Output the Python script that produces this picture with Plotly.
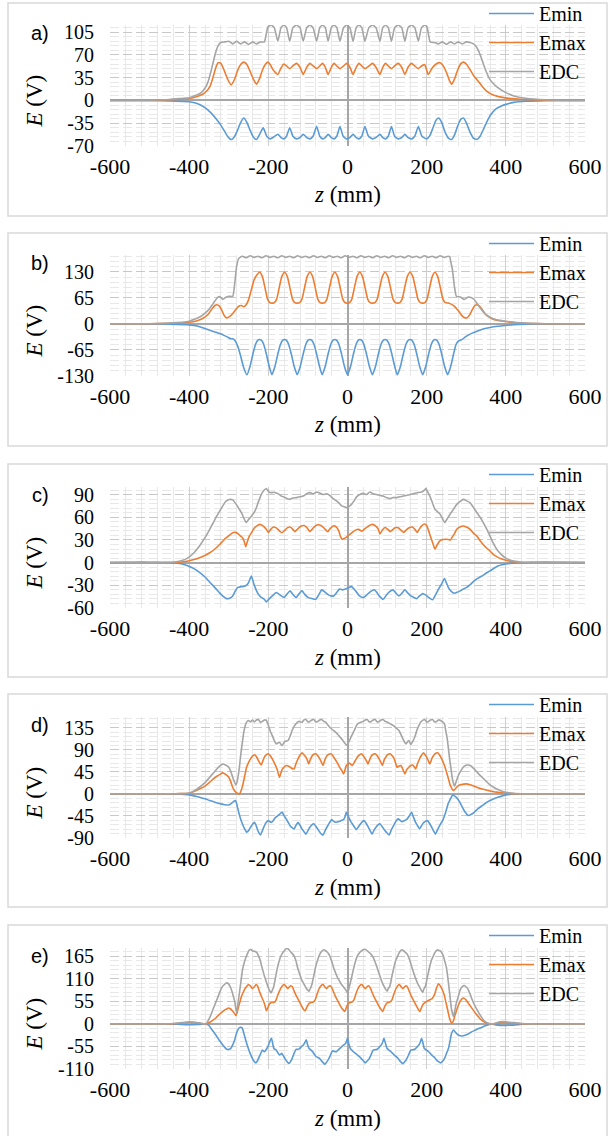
import plotly.graph_objects as go

# ---------------- data ----------------
SERIES = ["Emin", "Emax", "EDC"]
PANEL_LABELS = ["a)", "b)", "c)", "d)", "e)"]
X_TICKS = [-600, -400, -200, 0, 200, 400, 600]
Y_TICKS = [
    [-70, -35, 0, 35, 70, 105],
    [-130, -65, 0, 65, 130],
    [-60, -30, 0, 30, 60, 90],
    [-90, -45, 0, 45, 90, 135],
    [-110, -55, 0, 55, 110, 165],
]

a_emin = [(-600,0),(-500,-0.3),(-450,-0.8),(-400,-2),(-380,-4.6),(-360,-11),(-345,-19),(-332,-28),(-320,-38),(-310,-48),(-302,-56),(-294,-60),(-286,-56),(-278,-46),(-270,-34),(-262,-27),(-254,-34),(-246,-46),(-238,-56),(-230,-60),(-222,-52),(-213,-42),(-204,-55),(-195,-59),(-186,-56),(-176,-52),(-168,-57),(-161,-59),(-154,-55),(-146,-42),(-138,-55),(-129,-59),(-120,-57),(-112,-52),(-103,-57),(-95,-59),(-87,-55),(-78,-40),(-70,-55),(-63,-59),(-56,-57),(-49,-52),(-41,-57),(-34,-59),(-27,-55),(-19,-40),(-11,-55),(-2,-59),(6,-57),(14,-52),(22,-57),(29,-59),(36,-55),(44,-40),(53,-55),(63,-59),(72,-57),(82,-52),(89,-57),(96,-59),(103,-55),(111,-40),(119,-55),(128,-59),(137,-57),(145,-52),(153,-57),(162,-59),(170,-55),(179,-40),(188,-55),(200,-59),(208,-54),(216,-42),(223,-31),(230,-27),(238,-34),(246,-48),(255,-58),(263,-60),(271,-52),(279,-38),(286,-29),(293,-27),(300,-34),(309,-48),(318,-58),(327,-60),(335,-55),(343,-45),(352,-33),(362,-22),(375,-13),(390,-8),(400,-6),(420,-3),(450,-1.2),(500,-0.3),(600,0)]
a_emax = [(-600,0),(-500,0.3),(-450,1),(-400,3),(-380,6),(-365,10),(-355,15),(-347,22),(-340,35),(-333,50),(-327,58),(-320,57),(-312,47),(-303,33),(-294,24),(-285,33),(-277,47),(-269,56),(-262,59),(-255,56),(-247,46),(-238,33),(-230,25),(-222,34),(-214,48),(-207,56),(-201,59),(-195,55),(-188,47),(-176,40),(-168,50),(-161,56),(-154,53),(-146,49),(-138,53),(-129,57),(-120,51),(-112,40),(-103,51),(-95,57),(-87,53),(-78,49),(-70,53),(-63,57),(-56,51),(-49,40),(-41,51),(-34,57),(-27,53),(-19,49),(-10,53),(-2,57),(6,51),(14,40),(22,51),(29,57),(36,53),(44,49),(54,53),(63,57),(72,51),(82,40),(89,51),(96,57),(103,53),(111,49),(119,53),(128,57),(137,51),(145,40),(153,51),(162,57),(170,53),(179,49),(187,53),(195,55),(204,40),(214,50),(224,56),(234,58),(243,52),(252,40),(258,30),(263,25),(271,34),(279,48),(287,57),(293,59),(300,56),(310,47),(320,37),(327,32),(340,22),(352,14),(370,8),(398,4),(450,1.5),(500,0.5),(600,0)]
a_edc = [(-600,0),(-500,0.5),(-450,1.5),(-420,3),(-400,4),(-388,7),(-375,10),(-365,15),(-357,22),(-350,33),(-344,47),(-338,62),(-332,76),(-326,85),(-320,89),(-310,90),(-300,91),(-290,87),(-280,91),(-270,87),(-260,90),(-250,86),(-240,90),(-230,87),(-220,90),(-210,90),(-206,100),(-201,113),(-193,116),(-185,112),(-176,91),(-168,112),(-161,116),(-154,112),(-146,91),(-138,112),(-129,116),(-120,112),(-112,91),(-103,112),(-95,116),(-87,112),(-78,91),(-70,112),(-63,116),(-56,112),(-49,91),(-41,112),(-34,116),(-27,112),(-19,91),(-10,112),(-2,116),(6,112),(14,91),(22,112),(29,116),(36,112),(44,91),(54,112),(63,116),(72,112),(82,91),(89,112),(96,116),(103,112),(111,91),(119,112),(128,116),(137,112),(145,91),(153,112),(162,116),(170,112),(179,91),(187,112),(195,116),(201,113),(205,100),(209,90),(220,89),(230,87),(240,90),(250,86),(260,90),(270,87),(280,90),(290,87),(300,90),(310,89),(318,87),(325,83),(332,75),(340,62),(350,45),(360,32),(375,22),(400,12),(420,7),(450,3.5),(500,1),(550,0.2),(600,0)]

b_emin = [(-600,0),(-500,-0.3),(-450,-1),(-400,-2.5),(-380,-5),(-357,-12.5),(-335,-20),(-315,-27),(-303,-33),(-295,-37),(-290,-37),(-284,-42),(-277,-56),(-270,-80),(-262,-110),(-254,-127),(-246,-105),(-239,-75),(-232,-50),(-227,-41),(-222,-39),(-217,-41),(-212,-50),(-205,-75),(-198,-105),(-191,-127),(-183,-105),(-176,-75),(-169,-50),(-164,-41),(-159,-39),(-154,-41),(-149,-50),(-142,-75),(-135,-105),(-127,-127),(-119,-105),(-112,-75),(-105,-50),(-100,-41),(-95,-39),(-90,-41),(-85,-50),(-78,-75),(-71,-105),(-64,-127),(-56,-105),(-49,-75),(-42,-50),(-37,-41),(-32,-39),(-27,-41),(-22,-50),(-15,-75),(-8,-105),(0,-127),(8,-105),(15,-75),(22,-50),(27,-41),(31,-39),(36,-41),(41,-50),(48,-75),(55,-105),(63,-127),(71,-105),(78,-75),(85,-50),(90,-41),(95,-39),(100,-41),(105,-50),(112,-75),(119,-105),(126,-127),(134,-105),(141,-75),(148,-50),(153,-41),(158,-39),(163,-41),(168,-50),(175,-75),(182,-105),(190,-127),(198,-105),(205,-75),(212,-50),(217,-41),(221,-39),(226,-41),(231,-50),(238,-75),(245,-105),(253,-127),(261,-105),(268,-75),(274,-52),(280,-43),(286,-40),(291,-38),(297,-33),(305,-28),(315,-23),(327,-18),(345,-12),(360,-9),(380,-6),(398,-4),(420,-2),(450,-1),(500,-0.3),(600,0)]
b_emax = [(-600,0),(-500,0.5),(-450,1.5),(-400,4),(-380,8),(-365,14),(-352,24),(-342,38),(-335,46),(-330,48),(-324,45),(-318,35),(-312,22),(-306,15),(-298,18),(-290,26),(-282,36),(-275,44),(-268,46),(-262,43),(-256,48),(-250,60),(-243,85),(-236,110),(-229,122),(-222,129),(-215,118),(-208,88),(-202,62),(-196,53),(-190,52),(-185,53),(-179,62),(-173,88),(-166,118),(-159,129),(-152,118),(-145,88),(-139,62),(-133,53),(-127,52),(-121,53),(-115,62),(-109,88),(-102,118),(-95,129),(-88,118),(-81,88),(-75,62),(-69,53),(-63,52),(-58,53),(-52,62),(-46,88),(-39,118),(-32,129),(-25,118),(-18,88),(-12,62),(-6,53),(0,52),(5,53),(11,62),(17,88),(24,118),(31,129),(38,118),(45,88),(51,62),(57,53),(63,52),(69,53),(75,62),(81,88),(88,118),(95,129),(102,118),(109,88),(115,62),(121,53),(127,52),(132,53),(138,62),(144,88),(151,118),(158,129),(165,118),(172,88),(178,62),(184,53),(190,52),(195,53),(201,62),(207,88),(214,118),(221,129),(228,118),(235,88),(241,62),(247,53),(254,52),(260,50),(266,47),(272,42),(280,33),(288,22),(295,16),(301,15),(308,22),(315,35),(322,46),(327,48),(333,45),(340,36),(348,25),(356,18),(365,13),(377,9),(398,6),(420,3.5),(450,1.5),(500,0.5),(600,0)]
b_edc = [(-600,0),(-500,0.5),(-450,2),(-400,6.7),(-385,12),(-370,19),(-360,27),(-350,36),(-342,47),(-335,57),(-328,66),(-322,68),(-315,61),(-308,66),(-300,69),(-290,69),(-285,100),(-280,144),(-275,163),(-266,169),(-256,165),(-246,170),(-236,166),(-226,169),(-216,165),(-206,170),(-196,166),(-186,169),(-176,165),(-166,170),(-156,166),(-146,169),(-136,165),(-126,170),(-116,166),(-106,169),(-96,165),(-86,170),(-76,166),(-66,169),(-56,165),(-46,170),(-36,166),(-26,169),(-16,165),(-6,170),(4,166),(14,169),(24,165),(34,170),(44,166),(54,169),(64,165),(74,170),(84,166),(94,169),(104,165),(114,170),(124,166),(134,169),(144,165),(154,170),(164,166),(174,169),(184,165),(194,170),(204,166),(214,169),(224,165),(234,170),(244,166),(254,169),(258,168),(262,150),(265,136),(270,94),(275,69),(285,67),(295,61),(305,67),(312,66),(320,61),(328,50),(335,40),(343,30),(350,23),(360,17),(370,12.5),(385,9),(400,6.7),(450,2),(500,0.5),(600,0)]

c_emin = [(-600,0),(-441,0),(-420,-1.5),(-402,-4.4),(-388,-8),(-374,-13),(-360,-19),(-348,-26),(-335,-33),(-323,-40),(-314,-44.5),(-306,-47.6),(-298,-47),(-290,-44),(-284,-38),(-278,-33),(-270,-32),(-262,-31.5),(-256,-30),(-250,-26.4),(-246,-21),(-243,-17.6),(-240,-22),(-236,-29),(-230,-37),(-225,-42),(-218,-46),(-210,-48.5),(-205,-52),(-198,-48),(-190,-44),(-180,-39.6),(-170,-43),(-160,-46),(-152,-41),(-145,-37.4),(-138,-42),(-130,-46),(-122,-41),(-115,-37),(-108,-42),(-100,-46),(-90,-47.5),(-80,-48.5),(-72,-42),(-65,-36),(-57,-39),(-50,-42),(-42,-44),(-35,-44),(-28,-40),(-20,-35),(-12,-36),(-5,-35),(3,-33),(10,-31.7),(20,-37),(30,-44),(40,-46),(48,-43),(55,-39.6),(62,-37),(68,-36),(75,-40),(80,-44),(90,-48.5),(98,-43),(105,-39),(115,-36),(122,-40),(130,-44),(138,-40),(145,-36),(152,-40),(160,-44),(168,-46),(175,-47.6),(182,-44),(190,-41),(198,-43),(205,-46),(215,-49),(222,-43),(230,-35),(238,-28),(245,-21),(250,-27),(255,-33),(262,-38),(270,-40.5),(278,-39),(285,-37.4),(292,-35),(300,-33),(310,-29),(320,-24),(330,-20.5),(340,-17.6),(350,-14),(360,-11),(370,-7.5),(380,-4.4),(390,-2.8),(400,-1.8),(415,-0.8),(430,0),(600,0)]
c_emax = [(-600,0),(-560,0.3),(-520,0.6),(-480,0.3),(-441,0),(-420,0.8),(-402,2.2),(-388,4),(-374,6.6),(-360,9.5),(-348,13),(-335,18),(-323,24),(-314,29),(-306,33),(-298,36.5),(-290,39.6),(-283,40),(-276,38),(-270,35),(-265,33),(-261,28),(-257,21),(-253,28),(-248,35),(-242,40),(-235,46),(-228,49),(-220,50.5),(-212,48),(-205,44),(-200,40),(-194,44),(-187,47),(-180,46),(-172,42),(-166,39.5),(-160,42),(-152,46),(-145,47),(-138,44),(-133,41),(-127,44),(-118,48),(-110,49),(-102,46),(-95,41),(-88,45),(-80,49),(-72,50),(-64,48),(-56,44),(-50,41),(-44,45),(-36,48.5),(-28,47),(-22,42),(-18,35),(-14,31),(-8,32),(-2,34),(5,37),(12,40),(20,43),(28,44),(36,41.5),(44,45),(52,48),(61,50.5),(70,49),(78,44),(82,38),(88,43),(95,46.5),(102,44),(108,41),(113,43),(120,46),(128,46),(135,43),(142,40),(148,43),(156,46),(164,47),(170,44),(176,40),(182,45),(188,49),(195,51),(200,49),(205,42),(210,34),(216,25),(221,18),(227,24),(234,29),(241,30.5),(248,31),(255,30.5),(260,30),(265,34),(270,38),(276,44),(285,47.5),(293,48.5),(300,47),(310,44),(318,39),(327,35),(335,29),(343,24),(352,19),(360,15.4),(368,11),(377,8),(388,5),(398,3.5),(410,2),(425,0.8),(440,0),(470,0.5),(500,0.8),(530,0.4),(600,0)]
c_edc = [(-600,0),(-460,0),(-441,0.5),(-420,2.5),(-402,6.6),(-388,13),(-374,22),(-360,33),(-348,44),(-335,57),(-323,68),(-314,76),(-306,81.5),(-298,83.5),(-290,83),(-281,77),(-275,72),(-268,66),(-262,59),(-256,53),(-250,57),(-245,60),(-239,64),(-234,68),(-230,73),(-224,82),(-218,90),(-212,95),(-205,98),(-198,93),(-192,92.5),(-185,93),(-180,92),(-172,90),(-167,88),(-158,86),(-150,84),(-146,83.7),(-140,85),(-129,86),(-120,87),(-112,88),(-103,91),(-95,92.5),(-86,91),(-78,93.4),(-70,92),(-62,90),(-53,91),(-45,89),(-37,85),(-28,81.5),(-20,78),(-15,75),(-8,74),(-2.5,72.7),(3,74),(10,77),(17,82),(23,87),(31,90),(40,91.6),(48,90),(56.5,93.4),(65,91),(73,90),(82,89),(90,88),(98,86),(107,84.6),(115,86),(124,86),(132,87),(141,88),(150,89),(158,90),(166,91),(175,92.5),(184,93),(192,94.7),(198,97.8),(203,93),(208,88),(214,80),(221,70.5),(228,67),(234,64),(240,58),(246,53),(252,58),(259,64),(267,70),(276,77),(285,81),(293,83.7),(300,82),(310,79),(318,73),(327,66),(335,60),(343,53),(352,44),(360,35),(368,26),(377,17.6),(388,11),(398,6.6),(410,3.5),(420,2),(440,0.5),(460,0),(600,0)]

d_emin = [(-600,0),(-450,0),(-420,-0.5),(-402,-1.4),(-388,-4),(-374,-7),(-360,-10),(-348,-13.6),(-335,-17),(-320,-20.4),(-310,-22),(-300,-22.5),(-294,-20),(-290,-17),(-286,-14.5),(-283,-13.6),(-280,-20),(-278,-27),(-274,-40),(-270,-51),(-266,-60),(-262,-68),(-258,-74),(-255,-78),(-250,-75),(-245,-68),(-240,-62),(-235,-58),(-231,-64),(-228,-71.6),(-224,-79),(-220,-84),(-215,-75),(-210,-65),(-205,-58),(-200,-54.5),(-196,-57),(-192,-58),(-188,-55),(-185,-51),(-180,-47),(-175,-44),(-170,-40),(-165,-37.5),(-160,-45),(-155,-51),(-150,-58),(-145,-65),(-140,-69),(-135,-71.6),(-130,-64),(-125,-58),(-120,-64),(-115,-71.6),(-110,-77),(-105,-82),(-100,-75),(-95,-68),(-90,-63),(-85,-61),(-80,-66),(-75,-72),(-70,-78),(-66,-82),(-62,-84),(-56,-74),(-50,-65),(-45,-58),(-40,-52.5),(-35,-56),(-30,-58),(-25,-57),(-20,-56),(-15,-54),(-10,-52.5),(-6,-46),(-3,-37.5),(0,-42),(5,-51),(8,-56),(12,-61),(17,-67),(22,-73),(27,-68),(32,-62),(37,-57),(42,-54.5),(47,-60),(52,-67),(57,-75),(62,-82),(67,-74),(72,-68),(77,-63),(82,-61),(87,-66),(92,-72),(98,-78),(105,-84),(111,-73),(118,-62),(123,-55),(128,-51),(133,-54),(138,-56.6),(143,-55),(150,-52),(156,-45),(162,-37.5),(167,-48),(172,-58),(177,-65),(182,-71.6),(187,-65),(192,-59),(197,-56),(202,-54.5),(207,-60),(212,-67),(217,-75),(222,-82),(227,-74),(232,-66),(236,-60),(240,-55),(244,-47),(248,-37.5),(252,-26),(255,-18),(258,-13.6),(262,-7),(266,-2),(270,-4),(275,-7),(280,-12),(285,-19),(290,-27),(297,-37),(305,-44),(312,-42),(320,-37.5),(330,-30),(340,-24),(350,-18),(360,-13.6),(370,-10),(380,-7),(390,-4.5),(400,-2),(415,-0.8),(430,0),(600,0)]
d_emax = [(-600,0),(-450,0),(-420,0.5),(-402,1.4),(-388,5),(-374,10),(-360,16),(-348,24),(-338,31),(-330,36),(-322,40),(-315,43),(-308,40),(-300,34),(-295,25),(-290,13.6),(-286,7),(-282,3.4),(-277,1),(-273,0),(-269,6),(-265,17),(-260,35),(-255,54.5),(-250,64),(-245,71.6),(-240,77),(-235,80),(-230,76),(-225,68),(-218,59),(-214,67),(-210,75),(-205,80),(-200,82),(-195,78),(-190,71.6),(-184,62),(-178,51),(-172,34),(-168,43),(-165,50),(-160,55),(-155,58),(-150,57),(-145,54.5),(-140,52),(-135,51),(-130,62),(-125,71.6),(-120,79),(-115,84),(-110,80),(-105,75),(-101,68),(-98,61),(-94,70),(-90,77),(-85,81),(-80,82),(-75,78),(-70,71.6),(-66,65),(-62,58),(-57,70),(-52,78),(-47,81),(-42,82),(-37,78),(-32,71.6),(-26,64),(-20,54.5),(-14,47),(-10,41),(-6,50),(-3,58),(1,61),(5,63),(8,61),(12,58),(17,64),(22,71.6),(28,78),(35,82),(40,78),(45,71.6),(49,66),(52,61),(56,70),(60,77),(65,81),(70,82),(75,78),(80,71.6),(84,65),(88,58),(93,70),(98,77),(103,81),(108,82),(113,78),(118,71.6),(122,62),(125,54.5),(130,57),(135,58),(140,50),(145,41),(150,50),(155,54.5),(160,58),(165,59),(169,55),(172,51),(177,62),(182,71.6),(187,79),(192,84),(196,80),(200,75),(204,68),(208,61),(213,72),(218,79),(223,83),(228,84),(233,79),(238,71.6),(241,66),(245,58),(250,45),(255,30.7),(258,22),(262,13.6),(265,9),(268,6.8),(274,12),(280,17),(290,19.5),(300,20.4),(310,18.5),(320,15.7),(330,12.5),(340,10),(350,8),(360,6),(370,4.5),(380,3.4),(390,2.3),(400,1.4),(415,0.6),(430,0),(600,0)]
d_edc = [(-600,0),(-450,0),(-420,0.5),(-402,1.4),(-388,6),(-374,13.6),(-360,23),(-348,34),(-338,43),(-330,51),(-322,57),(-315,61),(-308,59),(-300,54.5),(-295,46),(-290,34),(-286,25),(-282,18.4),(-279,25),(-276,37.5),(-273,55),(-270,78),(-266,103),(-262,126),(-258,140),(-255,146.6),(-250,150),(-245,147),(-240,151),(-235,147),(-230,151),(-225,152),(-220,146),(-215,148),(-210,151),(-205,150),(-200,140),(-195,128),(-190,119),(-185,109),(-180,102),(-176,104),(-172,105.6),(-168,101),(-165,99),(-161,104),(-158,107),(-154,108),(-150,109),(-145,118),(-140,129.5),(-134,139),(-128,145),(-122,148),(-115,146),(-110,151),(-105,152),(-100,147),(-95,148),(-90,151),(-85,152),(-80,147),(-75,148),(-70,151),(-65,152),(-60,148),(-55,146.6),(-50,141),(-45,136),(-38,131),(-30,126),(-22,119),(-15,112.5),(-10,107),(-5,102),(-2,100),(0,99),(2,104),(5,109),(10,118),(15,126),(20,135),(25,143),(32,146),(40,148),(45,151),(50,152),(55,147),(60,148),(65,151),(70,152),(75,147),(80,148),(85,151),(90,152),(95,148),(100,146.6),(108,143),(115,140),(122,135),(130,129.5),(135,121),(140,112.5),(144,106),(148,102),(152,107),(155,109),(158,104),(160,101),(164,106),(168,112.5),(172,121),(175,129.5),(180,139),(185,146.6),(190,150),(195,152),(200,147),(205,148),(210,151),(215,152),(220,147),(225,148),(230,151),(235,150),(240,147),(245,143),(248,130),(252,112.5),(255,92),(258,71.6),(262,48),(265,30.7),(270,15.7),(275,26),(280,37.5),(287,48),(295,56.6),(305,59),(312,57),(320,51),(330,42),(340,34),(350,26),(360,18.4),(370,13),(380,8.9),(390,5.5),(400,3.4),(420,1),(450,0),(600,0)]

e_emin = [(-600,0),(-460,0),(-440,-0.5),(-420,-1.5),(-400,-2),(-380,-1.5),(-365,-0.5),(-357,0),(-350,-4),(-345,-10.7),(-338,-20),(-330,-31),(-324,-40),(-318,-47.6),(-311,-56),(-305,-62),(-299,-62),(-295,-60),(-290,-51),(-285,-39),(-282,-28),(-278,-16.4),(-274,-10),(-270,-8.2),(-266,-10),(-262,-23),(-257,-40),(-252,-56),(-246,-72),(-240,-84.6),(-236,-91),(-232,-95),(-228,-91),(-225,-84.6),(-220,-74),(-215,-64),(-210,-68),(-205,-62),(-200,-53),(-196,-42),(-192,-35),(-189,-48),(-186,-60),(-180,-64),(-176,-70),(-172,-76),(-169,-74),(-166,-72),(-162,-78),(-158,-84.6),(-153,-92),(-148,-97),(-144,-92),(-140,-84.6),(-135,-72),(-130,-62),(-126,-62),(-122,-61),(-117,-56),(-112,-52),(-108,-46),(-104,-39),(-101,-50),(-97,-60),(-92,-64),(-88,-68),(-84,-74),(-80,-79),(-75,-82),(-70,-84.6),(-64,-92),(-57,-98.5),(-52,-92),(-47,-84.6),(-42,-74),(-38,-65.7),(-33,-67),(-28,-68),(-22,-62),(-15,-56),(-10,-52),(-5,-47.6),(-2,-41),(0,-35),(3,-48),(7,-60),(11,-64),(15,-68),(20,-72),(25,-76),(30,-80),(35,-84.6),(40,-90),(45,-95),(50,-90),(55,-84.6),(60,-74),(65,-64),(70,-63),(75,-62),(80,-57),(85,-52),(89,-44),(92,-35),(96,-48),(100,-60),(105,-64),(110,-68),(114,-72),(118,-76),(123,-80),(128,-84.6),(134,-92),(140,-97),(145,-92),(150,-84.6),(155,-74),(160,-64),(165,-63),(170,-62),(175,-57),(180,-52),(184,-44),(187,-35),(191,-48),(194,-60),(200,-64),(205,-68),(209,-72),(213,-76),(218,-80),(222,-84.6),(228,-91),(235,-95),(240,-91),(245,-84.6),(250,-72),(255,-60),(259,-42),(263,-23),(268,-14.8),(274,-22),(280,-27),(285,-29),(290,-29.5),(297,-27.5),(305,-24.6),(312,-20.5),(320,-16.4),(330,-12),(340,-8.2),(348,-4.5),(355,-2.5),(362,0),(370,-1.5),(380,-3),(392,-4),(405,-3.5),(420,-3),(440,-1),(460,0),(600,0)]
e_emax = [(-600,0),(-460,0),(-440,0.5),(-420,2),(-400,4),(-385,3),(-370,1),(-357,0),(-348,4),(-340,9),(-332,15),(-325,22),(-318,28),(-310,34),(-304,37),(-300,38.6),(-296,37),(-290,31),(-285,25),(-282,20),(-278,30),(-275,43),(-271,56),(-268,67),(-264,76),(-260,84),(-255,91),(-250,96),(-245,92),(-240,86),(-235,91),(-231,96),(-227,92),(-222,78),(-217,66),(-212,55),(-208,43),(-205,32),(-201,40),(-197,49),(-192,52),(-187,52),(-182,55),(-177,68),(-172,80),(-166,91),(-160,96),(-155,91),(-151,86),(-147,90),(-143,93),(-139,90),(-134,78),(-128,66),(-122,55),(-116,44),(-111,35),(-107,32),(-102,42),(-97,50),(-92,52),(-87,53),(-82,58),(-77,72),(-72,85),(-67,93),(-62,96),(-57,90),(-53,86),(-49,90),(-44,93),(-40,89),(-35,77),(-30,66),(-24,55),(-18,44),(-12,35),(-7,30),(-3,40),(1,48),(6,52),(11,53),(16,58),(21,72),(26,85),(31,93),(36,96),(41,90),(45,86),(49,90),(53,93),(57,89),(62,77),(67,66),(73,55),(79,44),(85,35),(89,30),(93,40),(97,48),(102,52),(107,53),(112,58),(117,72),(122,85),(127,93),(131,96),(136,90),(140,86),(144,90),(148,93),(152,89),(157,77),(162,66),(168,55),(174,44),(179,35),(183,30),(187,40),(191,48),(196,52),(202,56),(208,59),(214,62),(220,72),(225,88),(230,98),(235,92),(240,82),(244,72),(248,55),(251,43),(255,25),(259,10),(263,2),(267,6),(272,22),(278,40),(284,54),(289,61),(293,63),(298,60),(304,52),(310,44),(318,33),(325,24),(331,17),(338,10),(345,5),(352,2),(360,0),(370,0.5),(380,2),(392,3),(405,2.5),(420,1.5),(440,0.5),(460,0),(600,0)]
e_edc = [(-600,0),(-460,0),(-440,1),(-420,3),(-400,5),(-385,4),(-370,1.6),(-357,0),(-351,10),(-345,22),(-338,40),(-330,59),(-324,74),(-318,88),(-311,96),(-305,100),(-300,97),(-295,88),(-290,73),(-285,55),(-280,26),(-276,55),(-273,75.5),(-269,105),(-265,133),(-260,152),(-255,166),(-251,175),(-248,180.6),(-244,181),(-240,178),(-236,177),(-232,175.7),(-228,172),(-225,166),(-221,157),(-218,145),(-214,131),(-210,116.6),(-205,102),(-200,88),(-196,80),(-193,75.5),(-189,84),(-186,92),(-182,112),(-178,133),(-173,152),(-168,166),(-164,173),(-160,178),(-156,182),(-152,184),(-148,181),(-144,175.7),(-140,172),(-135,166),(-130,153),(-126,137),(-121,122),(-116,108),(-110,97),(-105,88),(-101,83),(-97,79.6),(-93,88),(-90,96),(-85,118),(-80,141),(-75,157),(-70,170),(-65,177),(-60,180.6),(-56,179),(-52,175.7),(-48,171),(-45,166),(-40,153),(-35,137),(-30,124),(-25,112.5),(-20,104),(-15,96),(-10,90),(-5,83.7),(0,75.5),(3,84),(5,92),(10,112),(15,133),(20,152),(25,166),(30,173),(35,178),(40,181),(45,182),(50,178),(55,174),(60,169),(65,162),(70,150),(75,137),(80,122),(85,108),(88,100),(92,92),(96,85),(100,79.6),(103,86),(107,92),(112,115),(117,137),(122,155),(127,166),(132,176),(137,180.6),(141,179),(145,175.7),(149,172),(153,166),(158,153),(163,137),(168,122),(173,108),(178,97),(183,88),(187,81),(190,77),(193,85),(197,92),(202,115),(207,137),(212,155),(217,166),(222,176),(227,180.6),(231,179),(235,178),(239,172),(242,166),(246,152),(250,137),(254,108),(257,83.7),(260,58),(263,34.5),(268,18),(271,32),(275,51),(280,67),(285,83.7),(290,91),(295,93.6),(300,90),(305,83.7),(310,72),(315,59),(322,44),(330,30),(338,17),(345,8),(350,4),(355,1.6),(362,0),(370,0.5),(378,3),(385,5),(392,5.5),(400,5),(410,4),(420,3),(430,2),(440,1),(460,0),(600,0)]

PANEL_DATA = [
    (a_emin, a_emax, a_edc),
    (b_emin, b_emax, b_edc),
    (c_emin, c_emax, c_edc),
    (d_emin, d_emax, d_edc),
    (e_emin, e_emax, e_edc),
]

# ---------------- layout / style ----------------
W, H = 610, 1136
COLORS = ["#5B9BD5", "#ED7D31", "#A5A5A5"]
PLOT_X0, PLOT_X1 = 110, 585
PLOT_TOPS = [25, 255, 487, 717, 948]
PLOT_H = 121
Y_RANGES = [(-70, 116), (-130, 172), (-60, 100), (-90, 157), (-110, 185)]
Y_MINOR = [7, 13, 6, 9, 11]
BOX_TOPS = [3, 233, 464, 694, 925]
BOX_H = 213
SERIF = "Liberation Serif"
SANS = "Liberation Sans"

fig = go.Figure()
layout = dict(
    width=W, height=H, margin=dict(l=0, r=0, t=0, b=0, autoexpand=False),
    paper_bgcolor="white", plot_bgcolor="white",
    showlegend=True, annotations=[], shapes=[],
)

for i, series in enumerate(PANEL_DATA):
    n = i + 1
    sx = "" if n == 1 else str(n)
    leg = "legend" if n == 1 else f"legend{n}"
    for name, color, pts in zip(SERIES, COLORS, series):
        fig.add_trace(go.Scatter(
            x=[p[0] for p in pts], y=[p[1] for p in pts], name=name,
            mode="lines", line=dict(color=color, width=1.6, shape="spline", smoothing=0.5),
            xaxis="x" + sx, yaxis="y" + sx, legend=leg, hoverinfo="skip",
        ))
    top = PLOT_TOPS[i]
    y_dom = [1 - (top + PLOT_H) / H, 1 - top / H]
    layout["xaxis" + sx] = dict(
        domain=[PLOT_X0 / W, PLOT_X1 / W], range=[-600, 600], anchor="y" + sx,
        tickmode="array", tickvals=X_TICKS, ticktext=[str(v) for v in X_TICKS],
        showgrid=True, gridcolor="#cfcfcf", gridwidth=1.3,
        zeroline=True, zerolinecolor="#a6a6a6", zerolinewidth=2,
        showline=False, ticks="", ticklabelstandoff=5, automargin=False,
        tickfont=dict(family=SERIF, size=22, color="black"),
        minor=dict(tickmode="linear", tick0=-600, dtick=40, showgrid=True,
                   gridcolor="#e8e8e8", gridwidth=1),
        fixedrange=True,
    )
    layout["yaxis" + sx] = dict(
        domain=y_dom, range=list(Y_RANGES[i]), anchor="x" + sx,
        tickmode="array", tickvals=Y_TICKS[i], ticktext=[str(v) for v in Y_TICKS[i]],
        showgrid=True, gridcolor="#c8c8c8", gridwidth=1.3, griddash="9px,4px",
        zeroline=True, zerolinecolor="#a6a6a6", zerolinewidth=2,
        showline=False, ticks="", ticklabelstandoff=15, automargin=False,
        tickfont=dict(family=SERIF, size=20, color="black"),
        minor=dict(tickmode="linear", tick0=0, dtick=Y_MINOR[i], showgrid=True,
                   gridcolor="#e8e8e8", gridwidth=1),
        fixedrange=True,
    )
    layout[leg] = dict(
        x=484 / W, xanchor="left", y=1 - (BOX_TOPS[i] - 9) / H, yanchor="top",
        bgcolor="rgba(0,0,0,0)", borderwidth=0, itemwidth=45,
        font=dict(family=SERIF, size=20, color="black"),
        tracegroupgap=0, itemclick=False, itemdoubleclick=False,
    )
    # panel frame
    box_top = BOX_TOPS[i]
    layout["shapes"].append(dict(
        type="rect", xref="paper", yref="paper",
        x0=8 / W, x1=607 / W, y0=1 - (box_top + BOX_H) / H, y1=1 - box_top / H,
        line=dict(color="#d9d9d9", width=1.5), fillcolor="rgba(0,0,0,0)", layer="below",
    ))
    # panel label
    layout["annotations"].append(dict(
        text=PANEL_LABELS[i], xref="paper", yref="paper", x=40 / W, y=1 - (top + 8) / H,
        xanchor="center", yanchor="middle", showarrow=False,
        font=dict(family=SANS, size=20, color="black"),
    ))
    # axis titles
    layout["annotations"].append(dict(
        text="<i>E</i> (V)", xref="paper", yref="paper", x=34 / W,
        y=1 - (top + PLOT_H / 2 + 16) / H, xanchor="center", yanchor="middle",
        textangle=-90, showarrow=False, font=dict(family=SERIF, size=23, color="black"),
    ))
    layout["annotations"].append(dict(
        text="<i>z</i> (mm)", xref="paper", yref="paper", x=(PLOT_X0 + PLOT_X1) / 2 / W,
        y=1 - (top + PLOT_H + 49) / H, xanchor="center", yanchor="middle",
        showarrow=False, font=dict(family=SERIF, size=23, color="black"),
    ))

fig.update_layout(**layout)
fig.write_html(
    "out.html", include_plotlyjs=True, config={"displayModeBar": False},
    post_script="document.body.style.margin='0px';document.body.style.overflow='hidden';",
)
